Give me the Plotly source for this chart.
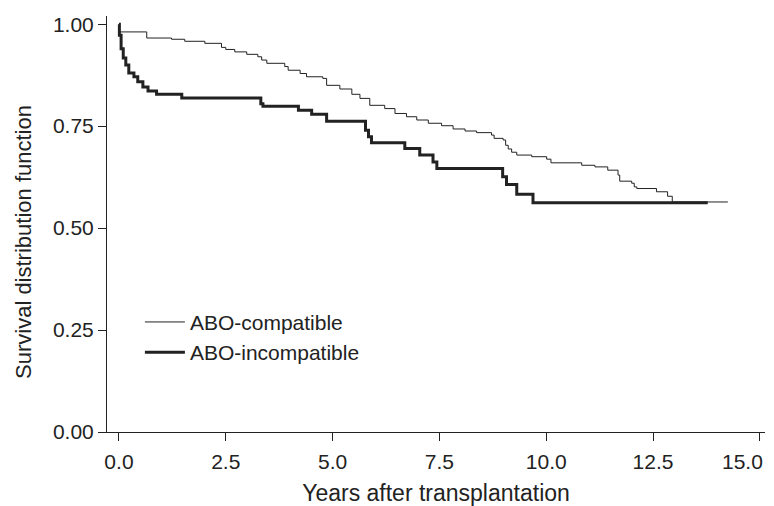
import plotly.graph_objects as go

# Kaplan-Meier step data
compat_years = [0, 0.01, 0.65, 1.23, 1.54, 2.01, 2.40, 2.50, 2.71, 2.99, 3.25, 3.34, 3.46,
                3.88, 3.96, 4.24, 4.39, 4.77, 4.86, 5.17, 5.45, 5.64, 5.87, 6.22, 6.46,
                6.73, 6.97, 7.24, 7.55, 7.82, 8.10, 8.37, 8.72, 8.78, 8.99, 9.05, 9.11,
                9.19, 9.31, 9.66, 10.01, 10.11, 10.83, 11.14, 11.44, 11.68, 11.72, 12.00,
                12.06, 12.12, 12.58, 12.84, 12.95, 14.25]
compat_surv = [1.0, 0.981, 0.966, 0.963, 0.958, 0.953, 0.943, 0.938, 0.932, 0.926, 0.920,
               0.912, 0.904, 0.896, 0.887, 0.879, 0.871, 0.867, 0.850, 0.841, 0.828,
               0.818, 0.801, 0.793, 0.781, 0.773, 0.765, 0.757, 0.751, 0.743, 0.738,
               0.734, 0.728, 0.720, 0.716, 0.703, 0.694, 0.686, 0.679, 0.675, 0.669,
               0.660, 0.654, 0.650, 0.642, 0.630, 0.615, 0.610, 0.601, 0.597, 0.589,
               0.578, 0.564, 0.564]

incompat_years = [0, 0.01, 0.05, 0.10, 0.16, 0.23, 0.35, 0.44, 0.56, 0.68, 0.88, 1.47,
                  3.32, 3.37, 4.20, 4.51, 4.86, 5.77, 5.84, 5.91, 6.69, 7.04, 7.35, 7.44,
                  8.98, 9.07, 9.31, 9.69, 13.78]
incompat_surv = [1.0, 0.973, 0.940, 0.917, 0.900, 0.880, 0.871, 0.859, 0.846, 0.836,
                 0.828, 0.819, 0.805, 0.799, 0.789, 0.779, 0.762, 0.740, 0.724, 0.709,
                 0.695, 0.679, 0.662, 0.646, 0.626, 0.607, 0.583, 0.562, 0.562]

x_ticks = [0, 2.5, 5, 7.5, 10, 12.5, 15]
x_tick_labels = ["0.0", "2.5", "5.0", "7.5", "10.0", "12.5", "15.0"]
y_ticks = [0, 0.25, 0.5, 0.75, 1.0]
y_tick_labels = ["0.00", "0.25", "0.50", "0.75", "1.00"]

ink = "#222222"
font = "Liberation Sans, Arial, sans-serif"

fig = go.Figure()
fig.add_trace(go.Scatter(x=compat_years, y=compat_surv, mode="lines",
                         line=dict(shape="hv", color=ink, width=1),
                         name="ABO-compatible"))
fig.add_trace(go.Scatter(x=incompat_years, y=incompat_surv, mode="lines",
                         line=dict(shape="hv", color=ink, width=3),
                         name="ABO-incompatible"))

# all tick labels but the last come from the axis; the last one is placed
# as an annotation right-aligned near the window edge so it is not clipped
axis_tick_text = x_tick_labels[:-1] + [""]
annotations = [
    dict(text="Survival distribution function", textangle=-90,
         xref="paper", yref="paper", x=-0.126, y=0.457,
         xanchor="center", yanchor="middle", showarrow=False,
         font=dict(size=22, color=ink)),
    dict(text=x_tick_labels[-1], xref="x", yref="paper", x=x_ticks[-1], y=0,
         xanchor="right", yanchor="middle", xshift=5, yshift=-29,
         showarrow=False, font=dict(size=21, color=ink)),
]

# the page body adds an 8px offset, so the figure is sized to fit the 774x506 window
fig.update_layout(
    width=766, height=498,
    margin=dict(l=99, r=9, t=8, b=74, autoexpand=False),
    paper_bgcolor="white", plot_bgcolor="white",
    font=dict(family=font, size=21, color=ink),
    legend=dict(x=0.05, y=0.313, xanchor="left", yanchor="top",
                bgcolor="rgba(0,0,0,0)", font=dict(size=21, color=ink),
                itemwidth=40, tracegroupgap=0),
    showlegend=True,
    annotations=annotations,
)
fig.update_xaxes(range=[-0.28, 15.12], tickvals=x_ticks, ticktext=axis_tick_text,
                 showgrid=False, zeroline=False, showline=True, linecolor=ink,
                 linewidth=1, ticks="outside", ticklen=8, tickcolor=ink,
                 automargin=False, ticklabelstandoff=3,
                 tickfont=dict(size=21), title=dict(text="Years after transplantation",
                 font=dict(size=23), standoff=16))
fig.update_yaxes(range=[0, 1.02], tickvals=y_ticks, ticktext=y_tick_labels,
                 showgrid=False, zeroline=False, showline=True, linecolor=ink,
                 linewidth=1, ticks="outside", ticklen=8, tickcolor=ink,
                 automargin=False, ticklabeloverflow="allow",
                 tickfont=dict(size=21))

fig.write_html("out.html")
